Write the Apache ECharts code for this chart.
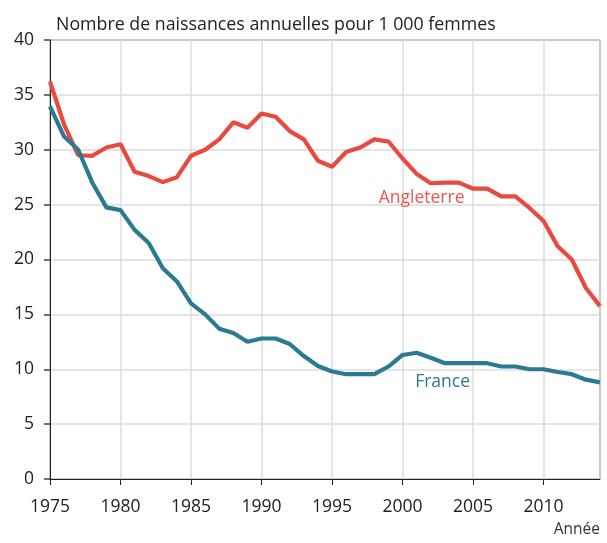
<!DOCTYPE html>
<html><head><meta charset="utf-8">
<script src="https://cdn.jsdelivr.net/npm/echarts@6/dist/echarts.min.js"></script>
<style>html,body{margin:0;padding:0;background:#fff}#c{width:607px;height:543px}</style>
</head><body><div id="c"></div>
<script>
const years = [];
for (let y = 1975; y <= 2014; y++) years.push(y);
const angleterre = [36.2, 32.3, 29.5, 29.45, 30.2, 30.5, 28.0, 27.6, 27.05, 27.5,
  29.45, 30.0, 30.95, 32.5, 32.0, 33.3, 33.0, 31.7, 30.95, 29.0,
  28.45, 29.8, 30.2, 30.95, 30.75, 29.2, 27.8, 26.95, 27.0, 27.0,
  26.45, 26.45, 25.75, 25.75, 24.7, 23.5, 21.2, 20.0, 17.4, 15.75];
const france = [33.95, 31.2, 30.0, 27.0, 24.75, 24.5, 22.7, 21.5, 19.2, 18.0,
  16.0, 15.0, 13.7, 13.3, 12.5, 12.8, 12.8, 12.3, 11.2, 10.3,
  9.8, 9.55, 9.55, 9.55, 10.25, 11.3, 11.5, 11.05, 10.55, 10.55,
  10.55, 10.55, 10.25, 10.25, 10.0, 10.0, 9.75, 9.55, 9.05, 8.8];
const seriesNames = ['Angleterre', 'France'];
const labelPos = [[2001.35, 25.6], [2002.84, 8.8]];
const titleText = 'Nombre de naissances annuelles pour 1 000 femmes';
const xName = 'Année';

const FONT = '"Open Sans", sans-serif';
const RED = '#ea4a3e', BLUE = '#2b7a91';
const chart = echarts.init(document.getElementById('c'), null, {renderer: 'canvas'});
function mk(name, vals, color, pos, textColor) {
  return {
    name, type: 'line', data: years.map((y, i) => [y, vals[i]]),
    symbol: 'none', lineStyle: {color, width: 4.2}, itemStyle: {color},
    markPoint: {
      symbol: 'circle', symbolSize: 0, silent: true,
      label: {show: true, formatter: name, color: textColor, fontFamily: FONT, fontSize: 17.5, position: 'inside'},
      data: [{coord: pos}]
    }
  };
}
chart.setOption({
  animation: false,
  grid: {left: 50, right: 7, top: 40, bottom: 64, show: true, borderColor: '#222', borderWidth: 1},
  title: {text: titleText, left: 51, top: 11, textStyle: {fontFamily: FONT, fontSize: 17.8, fontWeight: 'normal', color: '#222'}},
  graphic: [{type: 'text', right: 7, top: 522, style: {text: xName, font: '15.5px ' + FONT, fill: '#333'}}],
  xAxis: {
    type: 'value', min: 1975, max: 2014, interval: 5,
    axisLine: {lineStyle: {color: '#222'}},
    axisTick: {show: true, length: 6, lineStyle: {color: '#222'}},
    axisLabel: {color: '#222', fontFamily: FONT, fontSize: 17.5, margin: 19, showMaxLabel: false, formatter: v => String(v)},
    splitLine: {show: true, lineStyle: {color: '#dcdcdc', width: 1.5}}
  },
  yAxis: {
    type: 'value', min: 0, max: 40, interval: 5,
    axisLine: {show: true, lineStyle: {color: '#222'}},
    axisTick: {show: true, length: 6, lineStyle: {color: '#444', width: 1.5}},
    axisLabel: {color: '#222', fontFamily: FONT, fontSize: 17.5, margin: 16},
    splitLine: {show: true, lineStyle: {color: '#dcdcdc', width: 1.5}}
  },
  series: [
    mk(seriesNames[0], angleterre, RED, labelPos[0], '#f0564c'),
    mk(seriesNames[1], france, BLUE, labelPos[1], '#2b7a91')
  ]
});
</script></body></html>
